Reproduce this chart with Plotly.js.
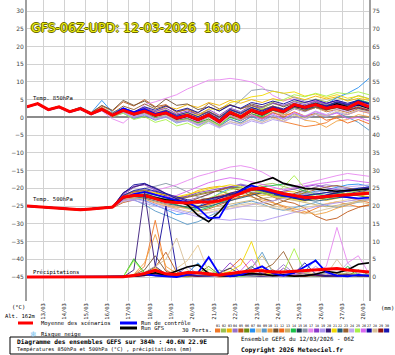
<!DOCTYPE html>
<html><head><meta charset="utf-8">
<script src="https://cdn.plot.ly/plotly-3.0.1.min.js"></script>
<style>html,body{margin:0;padding:0;background:#fff;}#chart{width:395px;height:355px;}</style>
</head><body><div id="chart"></div>
<script>
// ---- data ----
const hours = [0,12,24,36,48,60,72,84,96,108,120,132,144,156,168,180,192,204,216,228,240,252,264,276,288,300,312,324,336,348,360,372,384];
const dayTicks = [18,42,66,90,114,138,162,186,210,234,258,282,306,330,354,378];
const dayLabels = ['13/03','14/03','15/03','16/03','17/03','18/03','19/03','20/03','21/03','22/03','23/03','24/03','25/03','26/03','27/03','28/03'];
const leftTicks = [30,25,20,15,10,5,0,-5,-10,-15,-20,-25,-30,-35,-40,-45];
const rightTicks = [75,70,65,60,55,50,45,40,35,30,25,20,15,10,5,0];
const memberIds = ['01','02','03','04','05','06','07','08','09','10','11','12','13','14','15','16','17','18','19','20','21','22','23','24','25','26','27','28','29','30'];
const memberColors = ['#f07828','#98c050','#f0b400','#9870c8','#c05818','#6c8c10','#2890f0','#e8c890','#5898c8','#f0a040','#705030','#f06818','#c8b070','#18c048','#203850','#8898a8','#e888f0','#8838c8','#b098f0','#381878','#f0d800','#205878','#986030','#c0a8f0','#a8f048','#d868f0','#100898','#d8c098','#901010','#1818b0'];

const mean850 = [3.0,3.9,2.2,3.0,1.6,2.5,1.0,2.3,0.6,2.0,0.9,1.8,0.6,1.3,-0.2,0.6,-0.6,0.7,-1.2,1.4,0.1,2.0,1.0,2.4,1.6,3.6,2.8,3.6,2.6,3.2,2.6,4.2,3.0];
const ctl850 = [3.0,3.8,2.1,2.9,1.5,2.4,0.9,2.2,0.6,2.6,1.4,2.4,1.0,1.6,0.2,0.8,-0.4,0.8,-1.0,1.4,0.2,2.0,1.2,2.6,1.8,3.4,2.6,3.6,2.8,3.4,2.6,3.8,2.8];
const gfs850 = [3.0,3.9,2.2,3.0,1.6,2.5,1.0,2.3,0.6,2.1,0.8,1.8,0.4,1.2,-0.4,0.4,-0.8,0.6,-1.4,1.2,0.0,1.8,0.8,2.4,1.8,3.2,2.6,3.8,2.8,3.8,3.0,3.6,2.6];
const members850 = [
[3.1,3.7,2.4,2.8,1.8,2.3,1.2,2.1,0.9,1.6,0.4,1.2,0.1,0.6,-0.9,-0.4,-1.5,-0.5,-2.0,0.2,-0.8,0.5,-0.4,0.3,-1.2,-1.8,-2.6,-2.2,-1.5,0.4,0.8,1.9,1.2],
[2.9,4.0,2.1,3.2,1.5,2.7,0.8,2.6,0.4,2.5,1.3,2.6,1.2,2.2,0.6,1.4,0.3,1.8,0.2,2.4,1.3,3.2,2.6,3.9,3.1,4.6,4.0,5.2,4.4,5.6,4.8,6.2,5.3],
[3.0,3.8,2.3,3.1,1.7,2.4,1.1,2.2,0.8,1.9,1.0,2.3,1.6,3.0,2.4,3.6,2.8,4.2,3.4,4.8,4.0,5.0,4.2,5.3,4.6,5.8,5.0,6.0,5.2,5.8,4.6,5.4,4.8],
[3.1,3.9,2.2,2.9,1.6,2.6,0.9,2.0,0.3,1.5,0.2,1.0,-0.5,0.4,-1.2,-0.6,-1.8,-0.8,-2.4,-0.6,-1.5,0.4,-0.5,1.2,0.6,2.4,1.6,2.8,2.0,3.4,2.2,3.0,2.2],
[3.0,4.0,2.3,3.1,1.8,2.8,1.4,3.2,1.8,4.4,3.2,5.0,3.0,3.6,1.6,2.2,0.8,1.6,0.2,1.8,0.6,2.2,1.4,2.8,1.8,3.2,2.2,2.8,1.6,2.2,1.4,2.4,1.8],
[2.9,3.9,2.2,3.0,1.5,2.4,1.0,2.4,0.6,2.2,0.8,1.6,0.2,0.8,-0.8,-0.2,-1.4,0.2,-1.6,1.0,-0.4,1.6,0.4,2.0,1.2,3.2,2.6,4.0,3.4,4.4,3.8,4.6,4.0],
[3.0,3.8,2.1,3.1,1.7,2.9,1.3,4.8,1.4,2.6,1.0,2.0,0.4,1.0,-0.6,0.2,-1.0,0.4,-1.4,1.2,0.0,1.8,1.2,2.6,2.0,3.4,2.8,4.2,3.6,5.6,6.8,8.4,11.0],
[3.0,3.9,2.2,3.0,1.6,2.5,1.0,2.3,0.7,1.8,0.6,1.4,0.0,0.6,-0.6,0.2,-1.0,0.0,-1.8,0.6,-0.6,1.2,0.2,1.6,0.8,2.6,1.8,2.8,1.8,2.6,2.0,3.0,2.2],
[3.0,3.9,2.0,2.9,1.5,2.3,0.9,2.0,0.2,1.2,-0.4,0.6,-0.8,0.2,-1.6,-0.8,-2.2,-1.0,-2.6,-0.4,-1.6,0.2,-1.0,0.6,-0.6,1.0,0.2,1.2,0.4,1.4,0.0,-1.4,-3.6],
[3.1,3.8,2.3,3.0,1.7,2.5,1.1,2.3,0.9,2.3,1.4,2.4,1.3,2.0,0.8,1.2,0.0,1.0,-0.6,1.6,0.6,2.6,1.6,2.2,0.8,1.0,-0.8,-1.2,-2.8,-1.0,-0.6,0.8,0.2],
[3.0,3.9,2.3,3.1,1.8,2.8,1.3,3.4,2.0,4.8,3.4,4.6,2.8,5.2,3.4,3.8,2.2,3.0,1.8,3.6,2.4,3.8,3.0,4.2,3.0,4.0,3.2,4.4,3.4,4.0,3.2,4.4,3.6],
[3.0,3.8,2.2,3.0,1.6,2.4,1.0,2.2,0.6,1.9,0.8,1.7,0.5,1.0,-0.4,0.2,-0.8,0.2,-1.4,0.8,-0.4,1.0,-0.2,1.4,0.2,1.6,0.4,1.0,-0.8,-0.2,-1.6,-0.6,-1.8],
[2.9,3.9,2.2,3.0,1.6,2.6,1.1,2.5,0.8,2.2,1.1,2.2,1.0,1.8,0.4,1.2,0.2,1.4,-0.2,2.0,0.8,2.6,1.8,3.0,2.2,3.8,3.0,3.4,2.4,3.0,2.4,3.6,2.8],
[3.0,3.9,2.2,3.0,1.6,2.5,0.9,2.3,0.5,1.8,0.6,1.4,0.0,0.8,-1.0,-0.4,-1.6,-0.4,-2.2,0.0,-1.0,1.0,0.2,2.0,1.4,3.0,2.6,3.6,3.0,4.4,3.6,5.0,4.2],
[3.0,3.9,2.2,3.0,1.6,2.5,1.0,2.2,0.7,2.0,0.8,1.6,0.4,1.2,-0.2,0.6,-0.8,0.8,-1.0,1.6,0.4,2.2,1.4,2.6,1.8,3.4,2.4,3.0,2.2,2.8,2.0,2.6,1.8],
[3.0,3.8,2.2,3.0,1.6,2.4,1.0,2.4,0.7,2.1,1.0,2.0,0.9,1.6,0.2,1.0,-0.4,1.0,-0.6,2.4,4.8,7.6,8.0,7.4,6.8,5.6,4.6,4.2,3.6,4.0,3.2,3.8,3.0],
[3.0,3.9,2.2,3.0,1.6,2.4,0.8,1.8,-0.4,-1.6,1.0,3.6,4.4,5.4,6.4,8.0,9.2,10.5,10.6,11.0,10.6,10.0,8.6,6.2,4.8,5.2,4.2,4.8,4.0,4.6,3.8,4.4,3.6],
[3.0,3.9,2.2,3.0,1.6,2.5,1.0,2.4,0.8,2.4,1.4,2.8,1.6,2.6,1.0,1.8,0.8,2.2,0.6,2.6,1.6,3.4,2.8,4.0,3.4,4.4,3.6,4.6,3.8,4.8,3.6,4.6,3.4],
[3.0,3.9,2.2,3.0,1.6,2.4,1.0,2.2,0.4,1.4,0.0,0.8,-0.6,0.0,-1.4,-1.0,-2.0,-1.2,-2.8,-1.6,-2.4,-1.0,-1.8,-0.6,-1.2,0.2,-0.6,0.8,0.2,1.4,0.8,2.0,1.4],
[3.0,3.9,2.2,3.0,1.6,2.5,1.0,2.3,0.6,2.2,1.0,2.0,0.8,1.6,0.0,0.8,-0.4,1.2,-0.6,2.2,1.2,2.8,2.0,3.2,2.4,3.8,3.2,4.0,3.2,4.2,3.4,4.6,3.8],
[3.0,3.9,2.2,3.0,1.6,2.5,1.0,2.3,0.6,2.0,0.9,1.9,0.8,1.6,0.4,1.2,0.6,2.4,2.2,4.2,4.8,5.8,6.2,7.4,6.8,7.2,6.0,6.6,5.6,6.4,5.4,6.0,5.2],
[3.0,3.9,2.2,3.0,1.6,2.5,1.0,2.2,0.5,1.8,0.6,1.5,0.3,1.0,-0.6,0.2,-1.0,0.4,-1.4,1.0,-0.2,1.6,0.6,2.0,1.2,2.8,2.0,3.0,2.2,3.2,2.4,3.4,2.6],
[3.0,4.0,2.3,3.1,1.8,2.7,1.2,2.8,1.2,3.2,2.2,3.8,2.4,3.4,1.4,2.4,1.2,4.0,2.4,3.6,2.4,3.4,2.2,3.2,2.0,3.0,1.8,2.8,2.0,3.2,2.2,3.0,2.0],
[3.0,3.9,2.2,3.0,1.6,2.5,1.0,2.3,0.5,1.7,0.3,1.0,-0.4,0.4,-1.0,-0.8,-2.4,-1.6,-3.0,-1.2,-2.0,-0.6,-1.4,0.4,-0.4,1.2,0.4,1.8,0.8,2.4,1.6,2.8,2.0],
[3.0,3.9,2.2,3.0,1.6,2.5,0.9,2.0,0.2,1.2,-0.6,0.2,-1.4,-0.6,-2.4,-1.6,-3.0,-1.0,-2.2,0.4,-0.2,2.0,2.4,4.4,5.0,6.4,5.8,6.8,6.0,7.0,6.6,7.2,6.4],
[3.0,3.9,2.2,3.0,1.6,2.5,1.0,2.3,0.6,1.9,0.7,1.6,0.3,0.9,-0.6,0.0,-1.2,0.2,-1.8,0.6,-0.8,0.8,-0.6,1.0,-0.4,1.4,0.2,1.6,0.6,1.2,-0.4,0.0,-1.0],
[3.0,3.9,2.2,3.0,1.6,2.5,1.0,2.4,0.9,2.6,1.6,3.0,2.0,3.2,1.8,2.6,1.4,3.0,1.8,3.4,2.6,4.2,3.6,4.6,3.8,5.0,4.2,5.0,4.0,4.8,4.0,4.8,3.8],
[3.0,3.9,2.2,3.0,1.6,2.5,1.0,2.3,0.7,1.9,0.8,1.5,0.2,0.6,-1.0,-0.6,-1.8,-0.8,-2.6,-1.2,-1.8,-0.4,-1.4,-0.2,-1.0,0.6,-0.2,1.0,0.4,1.8,1.0,2.2,1.6],
[3.0,3.9,2.2,3.0,1.6,2.5,1.0,2.3,0.6,2.1,1.0,1.9,0.8,1.5,0.0,0.8,-0.4,1.0,-0.8,1.8,0.4,2.4,1.4,2.8,1.8,3.6,2.6,3.4,2.2,2.8,2.0,2.8,2.0],
[3.0,3.9,2.2,3.0,1.6,2.5,1.0,2.4,0.8,2.2,1.0,2.2,1.0,2.0,0.6,1.4,0.2,1.6,0.0,2.2,1.0,2.8,1.8,3.0,2.2,3.8,3.0,4.0,3.2,4.4,3.6,4.8,4.0]
];

const mean500 = [-25.0,-25.2,-25.5,-25.7,-25.9,-26.0,-25.8,-25.6,-25.3,-22.5,-22.0,-22.0,-23.0,-23.8,-24.0,-24.1,-23.8,-23.9,-23.5,-22.6,-21.4,-20.2,-19.9,-20.8,-21.5,-22.0,-22.6,-22.5,-22.2,-22.0,-21.8,-21.6,-21.4];
const ctl500 = [-25.0,-25.2,-25.5,-25.7,-25.9,-26.0,-25.8,-25.6,-25.3,-22.8,-21.6,-21.0,-21.8,-22.8,-23.4,-23.8,-25.5,-28.4,-28.2,-23.0,-20.6,-19.2,-20.2,-21.2,-22.0,-22.4,-22.8,-22.6,-22.0,-22.2,-22.6,-22.8,-22.6];
const gfs500 = [-25.0,-25.2,-25.5,-25.7,-25.9,-26.0,-25.8,-25.6,-25.3,-22.6,-22.0,-22.2,-22.8,-23.2,-23.4,-24.6,-27.6,-29.4,-26.6,-23.0,-20.6,-18.8,-18.0,-17.0,-18.6,-19.4,-20.0,-20.2,-20.6,-20.8,-20.6,-20.4,-20.2];
const members500 = [
[-25.0,-25.1,-25.4,-25.6,-25.8,-25.9,-25.6,-25.4,-25.0,-22.8,-22.4,-23.0,-24.2,-25.0,-25.6,-25.0,-24.2,-23.2,-22.0,-21.2,-20.6,-21.4,-22.8,-24.0,-25.2,-26.4,-27.0,-25.6,-24.4,-23.8,-24.6,-25.2,-24.8],
[-25.0,-25.3,-25.6,-25.8,-26.0,-26.1,-25.9,-25.7,-25.4,-23.0,-22.2,-21.6,-22.4,-23.0,-23.6,-24.4,-25.0,-24.4,-23.6,-22.4,-21.0,-20.0,-19.0,-18.6,-19.4,-20.4,-21.2,-22.4,-23.0,-22.6,-22.0,-21.4,-21.0],
[-24.9,-25.2,-25.5,-25.6,-25.8,-25.9,-25.7,-25.5,-25.2,-23.6,-22.6,-21.8,-21.4,-22.0,-22.6,-22.0,-20.6,-19.8,-19.4,-19.8,-20.6,-21.4,-22.0,-21.6,-20.8,-21.0,-21.8,-22.6,-23.4,-22.8,-22.2,-21.8,-22.4],
[-25.0,-25.1,-25.5,-25.7,-25.9,-26.0,-25.8,-25.6,-25.2,-21.8,-19.8,-18.6,-20.2,-21.8,-22.8,-23.4,-22.6,-21.8,-20.4,-19.6,-18.8,-19.4,-20.2,-21.6,-22.4,-21.8,-20.6,-19.6,-19.0,-19.4,-20.2,-20.0,-19.6],
[-25.0,-25.2,-25.6,-25.8,-26.0,-26.2,-26.0,-25.8,-25.5,-24.0,-23.2,-22.6,-22.8,-23.6,-24.6,-25.6,-26.4,-25.8,-24.6,-23.4,-22.4,-21.8,-21.2,-22.4,-23.6,-24.2,-25.6,-27.8,-29.0,-28.4,-26.6,-25.4,-24.6],
[-25.0,-25.2,-25.5,-25.7,-25.9,-26.0,-25.8,-25.6,-25.3,-22.6,-21.6,-21.4,-22.6,-23.4,-23.0,-22.4,-21.6,-21.0,-20.8,-21.6,-22.4,-21.4,-20.6,-21.0,-22.0,-22.8,-23.4,-22.6,-21.8,-21.2,-21.6,-22.2,-22.6],
[-25.1,-25.2,-25.4,-25.6,-25.8,-25.9,-25.7,-25.5,-25.2,-23.2,-22.8,-23.4,-24.6,-26.0,-27.4,-27.0,-25.2,-23.4,-21.4,-20.0,-19.2,-19.6,-20.4,-21.2,-21.8,-22.4,-21.6,-20.8,-20.4,-19.6,-19.0,-18.8,-19.4],
[-25.0,-25.3,-25.6,-25.8,-26.1,-26.2,-26.0,-25.8,-25.5,-22.6,-22.0,-22.6,-24.0,-25.0,-25.8,-26.6,-27.2,-26.8,-26.0,-25.6,-25.0,-24.4,-24.0,-24.8,-25.6,-26.0,-25.4,-24.8,-24.2,-23.6,-23.2,-23.8,-24.4],
[-25.0,-25.2,-25.5,-25.7,-25.9,-26.0,-25.8,-25.6,-25.3,-23.0,-23.2,-24.6,-26.4,-27.6,-29.0,-30.2,-29.4,-28.0,-26.4,-25.0,-24.2,-23.6,-24.4,-25.6,-26.2,-25.4,-24.6,-24.0,-24.8,-25.4,-24.6,-23.8,-23.2],
[-25.0,-25.2,-25.5,-25.7,-25.9,-26.0,-25.8,-25.6,-25.3,-22.4,-21.6,-21.2,-21.8,-22.6,-23.6,-24.8,-25.4,-24.6,-23.4,-22.2,-21.6,-22.4,-23.4,-24.2,-25.0,-25.6,-26.6,-27.4,-26.8,-25.6,-24.8,-23.6,-22.8],
[-24.9,-25.1,-25.4,-25.6,-25.8,-25.9,-25.7,-25.5,-25.2,-22.0,-20.8,-20.4,-21.0,-22.2,-23.4,-24.0,-22.8,-21.4,-20.4,-19.6,-19.8,-21.2,-22.8,-23.6,-22.6,-21.4,-20.4,-19.8,-20.6,-21.4,-20.8,-20.2,-19.8],
[-25.0,-25.2,-25.5,-25.7,-25.9,-26.0,-25.8,-25.6,-25.3,-23.2,-22.6,-22.8,-23.8,-24.6,-25.2,-25.6,-25.2,-24.6,-24.0,-23.2,-22.4,-21.6,-21.0,-21.6,-22.2,-22.8,-23.2,-22.8,-22.4,-22.0,-22.6,-23.4,-24.0],
[-25.0,-25.2,-25.5,-25.7,-25.9,-26.0,-25.8,-25.6,-25.3,-23.4,-22.8,-22.2,-22.6,-23.2,-23.8,-24.2,-24.8,-25.4,-25.0,-24.4,-23.8,-23.2,-22.8,-22.4,-22.8,-23.4,-24.0,-24.6,-25.2,-24.8,-24.2,-23.6,-23.0],
[-25.0,-25.2,-25.6,-25.8,-26.0,-26.1,-25.9,-25.7,-25.4,-22.8,-22.2,-22.4,-23.2,-24.0,-24.8,-25.6,-26.2,-25.4,-24.2,-22.8,-21.6,-20.4,-19.6,-19.2,-18.8,-19.6,-20.8,-21.6,-22.0,-21.4,-20.6,-20.0,-20.4],
[-25.0,-25.2,-25.5,-25.7,-25.9,-26.0,-25.8,-25.6,-25.3,-22.4,-21.8,-21.6,-22.4,-23.2,-24.0,-24.2,-23.6,-23.0,-22.4,-21.6,-21.0,-20.6,-20.8,-21.6,-22.4,-22.6,-22.2,-21.6,-21.2,-21.6,-22.0,-21.8,-21.4],
[-25.0,-25.2,-25.5,-25.7,-25.9,-26.0,-25.8,-25.6,-25.3,-22.6,-21.4,-20.0,-19.4,-18.6,-19.6,-21.0,-22.4,-23.2,-22.6,-21.8,-21.4,-21.0,-21.6,-22.2,-22.6,-22.0,-21.4,-21.0,-20.6,-20.2,-20.6,-21.0,-21.6],
[-25.0,-25.2,-25.5,-25.7,-25.9,-26.0,-25.8,-25.6,-25.3,-23.0,-22.0,-21.4,-20.6,-19.8,-19.0,-17.8,-16.6,-15.8,-15.0,-14.0,-13.6,-14.2,-15.4,-17.2,-18.8,-19.4,-18.6,-17.8,-17.0,-16.4,-15.8,-16.2,-16.6],
[-25.0,-25.2,-25.5,-25.7,-25.9,-26.0,-25.8,-25.6,-25.3,-21.6,-19.4,-19.0,-20.6,-22.0,-22.8,-22.2,-21.2,-20.6,-20.0,-19.4,-19.0,-19.8,-20.6,-21.4,-20.8,-20.2,-19.6,-19.0,-19.8,-20.4,-21.0,-20.4,-19.8],
[-25.0,-25.2,-25.5,-25.7,-25.9,-26.0,-25.8,-25.6,-25.3,-23.6,-23.4,-24.2,-25.0,-25.6,-26.4,-27.2,-28.0,-28.4,-28.8,-29.0,-28.6,-28.8,-29.2,-28.4,-27.6,-26.8,-25.8,-25.2,-24.6,-24.0,-23.6,-23.2,-23.0],
[-25.0,-25.2,-25.5,-25.7,-25.9,-26.0,-25.8,-25.6,-25.3,-21.2,-19.6,-18.8,-19.8,-21.4,-22.6,-23.6,-24.2,-23.6,-22.8,-22.0,-21.2,-20.4,-20.0,-20.6,-21.2,-21.8,-22.4,-23.0,-22.6,-22.0,-21.4,-20.8,-20.4],
[-25.0,-25.2,-25.5,-25.7,-25.9,-26.0,-25.8,-25.6,-25.3,-22.2,-21.2,-20.8,-21.2,-21.8,-22.4,-21.8,-21.0,-20.2,-19.6,-19.0,-19.4,-20.4,-21.4,-22.2,-22.6,-23.2,-23.6,-23.0,-22.4,-22.0,-21.6,-21.2,-21.0],
[-25.0,-25.2,-25.5,-25.7,-25.9,-26.0,-25.8,-25.6,-25.3,-22.8,-22.4,-22.8,-23.6,-24.4,-24.8,-25.2,-25.6,-25.0,-24.2,-23.4,-22.6,-21.8,-21.2,-21.8,-22.4,-22.8,-23.2,-23.6,-23.2,-22.6,-22.2,-21.8,-21.6],
[-25.0,-25.2,-25.5,-25.7,-25.9,-26.0,-25.8,-25.6,-25.3,-22.2,-21.0,-20.6,-21.6,-22.8,-23.2,-22.6,-21.8,-21.2,-20.6,-19.8,-20.6,-22.2,-23.8,-24.8,-23.6,-22.4,-21.2,-20.4,-19.6,-19.2,-19.8,-20.6,-21.2],
[-25.0,-25.2,-25.5,-25.7,-25.9,-26.0,-25.8,-25.6,-25.3,-23.4,-23.0,-23.6,-24.4,-25.4,-26.2,-26.8,-27.4,-27.0,-26.4,-25.8,-25.2,-24.6,-24.0,-23.6,-23.0,-22.4,-21.8,-21.2,-20.6,-20.0,-19.6,-19.2,-19.0],
[-25.0,-25.2,-25.5,-25.7,-25.9,-26.0,-25.8,-25.6,-25.3,-22.6,-21.8,-21.2,-21.8,-22.6,-23.4,-24.2,-23.6,-22.8,-21.6,-20.4,-19.8,-20.4,-21.2,-21.8,-19.6,-16.4,-20.0,-22.4,-22.8,-22.0,-21.2,-20.6,-20.2],
[-25.0,-25.2,-25.5,-25.7,-25.9,-26.0,-25.8,-25.6,-25.3,-22.4,-21.4,-21.0,-21.6,-22.4,-22.0,-20.8,-19.6,-18.4,-17.6,-17.0,-17.4,-18.2,-19.0,-19.8,-20.4,-19.8,-19.2,-18.8,-18.4,-18.0,-17.6,-18.0,-18.4],
[-25.0,-25.2,-25.5,-25.7,-25.9,-26.0,-25.8,-25.6,-25.3,-21.4,-19.0,-18.6,-20.0,-21.6,-23.0,-24.4,-25.2,-24.2,-22.8,-21.4,-20.6,-20.0,-20.6,-21.4,-22.2,-22.8,-23.4,-22.6,-21.8,-21.2,-20.8,-20.4,-20.0],
[-25.0,-25.2,-25.5,-25.7,-25.9,-26.0,-25.8,-25.6,-25.3,-23.0,-22.6,-23.0,-23.8,-24.6,-25.2,-25.8,-26.4,-26.2,-25.6,-25.0,-24.6,-24.2,-24.8,-25.4,-26.0,-26.6,-27.2,-26.6,-25.8,-25.0,-24.4,-23.8,-23.4],
[-25.0,-25.2,-25.5,-25.7,-25.9,-26.0,-25.8,-25.6,-25.3,-22.6,-22.0,-22.2,-23.0,-23.8,-24.2,-24.0,-23.4,-22.8,-22.2,-21.6,-21.0,-20.6,-20.4,-21.0,-21.6,-22.2,-22.8,-23.0,-22.6,-22.2,-21.8,-21.4,-21.2],
[-25.0,-25.2,-25.5,-25.7,-25.9,-26.0,-25.8,-25.6,-25.3,-22.0,-20.6,-20.0,-20.8,-21.8,-22.6,-23.2,-23.8,-23.2,-22.4,-21.6,-20.8,-20.2,-20.6,-21.4,-22.0,-22.4,-22.0,-21.4,-21.0,-20.6,-20.2,-19.8,-19.6]
];

const meanPr = [0,0,0,0,0,0,0,0,0,0.1,0.4,1.0,1.9,0.9,0.7,1.3,1.2,0.8,0.6,1.0,1.4,1.8,1.8,1.4,1.4,1.6,1.8,2.0,2.2,2.4,2.0,1.6,1.4];
const ctlPr = [0,0,0,0,0,0,0,0,0,0.2,0.4,0.8,0.4,0.2,0.0,0.6,1.2,5.6,0.8,0.2,0.6,1.8,3.0,1.0,0.4,1.2,2.8,4.6,1.4,0.4,0.2,0.6,0.4];
const gfsPr = [0,0,0,0,0,0,0,0,0,0,0.2,0.6,1.2,0.6,1.6,2.8,3.4,1.0,0.4,0.2,0.6,1.0,0.8,0.4,0.6,0.2,0.4,0.8,1.6,1.2,2.0,3.6,4.0];
const membersPr = [
[0,0,0,0,0,0,0,0,0,0,0.6,3.0,16,2.0,0.4,0.2,0.8,0.4,0,0.2,0.6,1.2,0.8,0.4,0.2,0.6,1.4,0.8,0.2,0.4,0.8,0.6,0.2],
[0,0,0,0,0,0,0,0,0,0,5.2,1.0,0.4,0.8,0.2,0,0.4,1.2,0.6,0.2,0.4,0.8,0.4,0.2,0.6,1.6,0.6,0.2,0.4,0.6,1.2,0.8,0.4],
[0,0,0,0,0,0,0,0,0,0,0.2,0.8,2.6,1.0,0.4,0.8,0.4,0.2,0.6,1.4,0.8,0.6,0.4,0.2,0.4,0.6,0.2,0.4,0.8,0.6,0.4,0.2,0.4],
[0,0,0,0,0,0,0,0,0,0,0.4,0.8,0.4,0.2,0.6,3.0,0.8,0.2,0.4,0.2,0.6,0.8,1.2,0.8,3.5,1.0,0.6,0.4,0.2,0.6,0.4,0.8,0.6],
[0,0,0,0,0,0,0,0,0,0,0.2,1.2,2.8,7.0,1.4,0.4,0.2,0.6,0.4,0.2,0.8,0.4,0.2,0.6,0.4,0.2,0.6,1.0,0.4,0.2,0.4,0.6,0.2],
[0,0,0,0,0,0,0,0,0,0,0.2,0.6,0.4,0.2,0.8,0.4,1.0,3.0,0.6,0.2,0.4,0.6,0.8,0.4,0.2,0.6,0.4,0.2,0.6,0.8,0.4,2.0,0.6],
[0,0,0,0,0,0,0,0,0,0,0.4,1.0,0.6,0.2,0.4,1.0,4.0,0.8,0.2,0.6,0.4,0.2,0.8,0.4,0.6,0.8,1.6,5.0,1.0,0.4,0.2,0.6,0.4],
[0,0,0,0,0,0,0,0,0,0,0.2,0.8,1.6,0.6,2.4,4.6,9.0,1.2,0.4,0.2,0.6,1.0,0.4,0.8,0.6,0.4,0.2,0.6,0.8,0.4,0.2,0.6,0.4],
[0,0,0,0,0,0,0,0,0,0,0.2,0.6,1.0,0.4,0.2,0.6,1.0,0.6,0.2,0.4,0.8,2.4,7.0,1.2,0.4,0.2,0.6,0.8,0.4,0.6,0.4,0.2,0.4],
[0,0,0,0,0,0,0,0,0,0,0.8,4.0,12,3.0,1.0,0.4,0.6,0.2,0.4,0.8,0.4,0.2,0.6,1.2,0.4,0.2,0.6,0.8,0.4,1.0,0.6,0.2,0.4],
[0,0,0,0,0,0,0,0,0,0,0.6,2.0,6.0,1.6,0.6,0.2,0.4,0.6,0.2,0.4,0.8,1.2,0.6,0.4,0.8,0.4,0.2,0.6,0.4,0.8,0.6,0.4,0.2],
[0,0,0,0,0,0,0,0,0,0,0.2,0.4,1.2,0.6,0.2,0.4,0.8,0.4,1.0,2.4,5.2,1.4,0.6,0.2,0.4,0.6,0.8,0.4,0.2,0.6,0.8,0.4,0.2],
[0,0,0,0,0,0,0,0,0,0,0.2,0.6,1.0,0.4,0.2,0.6,0.4,0.2,0.6,0.8,1.4,2.6,6.0,1.8,0.6,0.4,0.2,0.6,1.2,0.8,0.4,0.2,0.6],
[0,0,0,0,0,0,0,0,0,0,5.0,1.2,0.6,0.2,0.4,0.8,0.4,0.2,0.6,0.4,0.2,0.6,0.8,0.4,0.2,0.6,0.4,0.8,1.0,0.6,3.0,0.8,0.4],
[0,0,0,0,0,0,0,0,0,0,0.2,0.4,0.8,0.4,0.2,0.6,0.4,0.8,1.2,2.5,0.8,0.4,0.2,0.6,0.4,0.2,0.6,0.8,0.4,0.2,0.6,0.4,0.2],
[0,0,0,0,0,0,0,0,0,0,0.4,0.8,0.4,0.2,0.6,0.4,0.8,0.6,2.0,0.8,0.4,0.2,0.6,0.4,0.8,0.6,0.4,0.2,0.6,0.4,0.2,0.6,0.4],
[0,0,0,0,0,0,0,0,0,0,0.2,0.4,0.6,0.2,0.4,0.2,0.6,0.4,0.2,0.6,0.4,0.8,0.4,0.2,0.6,0.8,1.2,0.8,3.0,14,4.0,6.0,1.0],
[0,0,0,0,0,0,0,0,0,0,0.2,0.6,1.0,0.4,0.8,0.4,0.2,0.6,0.8,4.0,1.2,0.6,0.4,0.2,2.5,0.8,0.4,0.6,0.2,0.4,0.8,0.6,0.4],
[0,0,0,0,0,0,0,0,0,0,0.2,0.4,0.8,0.6,0.2,0.4,0.6,0.2,0.4,0.8,0.6,0.4,0.2,0.6,0.8,1.2,0.6,3.0,1.0,0.4,0.2,0.6,0.4],
[0,0,0,0,0,0,0,0,0,0,2.0,24,3.0,0.8,0.4,0.2,0.6,0.4,0.2,0.6,0.8,0.4,0.2,0.6,0.4,0.2,0.6,0.8,0.4,0.2,0.6,0.4,0.2],
[0,0,0,0,0,0,0,0,0,0,0.2,0.6,1.4,0.8,0.4,0.2,0.6,0.4,0.8,1.6,3.4,10,1.6,0.6,0.4,0.2,0.6,0.8,0.4,0.2,0.6,0.4,0.2],
[0,0,0,0,0,0,0,0,0,0,0.2,0.4,0.8,0.4,0.2,0.6,0.8,0.4,0.2,0.6,1.0,3.0,0.8,0.4,0.2,0.6,0.8,0.4,0.2,0.6,0.4,0.8,0.4],
[0,0,0,0,0,0,0,0,0,0,0.4,1.0,2.2,0.8,0.4,0.2,0.6,0.4,0.2,0.6,0.8,1.2,2.0,3.6,7.2,1.4,0.6,0.4,0.2,0.6,0.8,0.4,0.2],
[0,0,0,0,0,0,0,0,0,0,0.2,0.6,0.4,0.2,0.6,0.8,0.4,0.2,0.6,0.4,0.8,0.6,0.4,0.2,0.6,0.8,0.4,0.6,1.0,0.6,4.0,0.8,0.4],
[0,0,0,0,0,0,0,0,0,0,4.6,1.0,0.4,0.2,0.6,0.4,0.8,2.2,0.6,0.4,0.2,0.6,0.4,0.8,1.4,8.0,1.2,0.6,0.4,0.2,0.6,0.8,0.4],
[0,0,0,0,0,0,0,0,0,0,0.2,0.4,0.6,0.2,0.4,0.6,0.8,0.4,0.2,0.6,1.8,5.0,1.0,0.4,0.2,0.6,0.8,0.4,0.6,0.2,0.4,0.6,0.2],
[0,0,0,0,0,0,0,0,0,0,0.4,1.2,3.0,20,2.0,0.6,0.2,0.4,0.6,0.2,0.4,0.8,0.4,0.2,0.6,0.4,0.8,0.6,0.2,0.4,0.6,0.2,0.4],
[0,0,0,0,0,0,0,0,0,0,0.4,1.4,3.0,5.0,11,2.0,0.6,0.4,0.2,0.6,0.4,0.8,0.4,0.2,0.6,0.4,0.8,1.2,0.6,5.0,1.0,0.4,0.2],
[0,0,0,0,0,0,0,0,0,0,0.2,0.4,0.6,0.2,0.4,0.6,0.2,0.4,0.6,0.2,0.4,0.8,0.6,2.0,0.6,0.4,0.2,0.6,0.4,0.2,0.6,0.4,0.2],
[0,0,0,0,0,0,0,0,0,0,0.2,0.6,1.0,0.4,0.2,0.6,0.4,0.2,0.6,0.8,0.4,0.6,0.8,0.4,0.6,1.0,4.0,0.8,0.4,0.2,0.6,0.4,0.2]
];

// ---- layout geometry (pixels of the 395x355 picture) ----
const PL = 27, PR = 369, PT = 0, PB = 301;
const px = v => (v - PL) / (PR - PL);
const py = v => (PB - v) / (PB - PT);
const MONO = 'DejaVu Sans Mono';

const traces = [];
function line(y, color, width, axis) {
  traces.push({x: hours, y: y, type: 'scatter', mode: 'lines', yaxis: axis,
    line: {color: color, width: width}, hoverinfo: 'skip'});
}
for (let i = 0; i < members850.length; i++) line(members850[i], memberColors[i], 0.9, 'y');
for (let i = 0; i < members500.length; i++) line(members500[i], memberColors[i], 0.9, 'y');
for (let i = 0; i < membersPr.length; i++) line(membersPr[i], memberColors[i], 0.9, 'y2');
line(gfs850, '#000000', 1.6, 'y'); line(gfs500, '#000000', 1.6, 'y'); line(gfsPr, '#000000', 1.6, 'y2');
line(ctl850, '#0000ff', 1.8, 'y'); line(ctl500, '#0000ff', 1.8, 'y'); line(ctlPr, '#0000ff', 1.8, 'y2');
line(mean850, '#ff0000', 3, 'y'); line(mean500, '#ff0000', 3, 'y'); line(meanPr, '#ff0000', 3, 'y2');

function txt(text, x, y, size, opt) {
  return Object.assign({text: text, xref: 'paper', yref: 'paper', x: px(x), y: py(y),
    xanchor: 'left', yanchor: 'middle', showarrow: false, borderpad: 0,
    font: {family: MONO, size: size, color: '#000'}}, opt || {});
}
const annotations = [
  txt('GFS-06Z-UPD: 12-03-2026  16:00', 30, 27, 12.5,
      {font: {family: 'DejaVu Sans', size: 12.5, color: '#eeee10', shadow: '1px 0px 0px #6a6a00, -1px 0px 0px #6a6a00, 0px 1px 0px #6a6a00, 0px -1px 0px #6a6a00'}}),
  txt('Temp. 850hPa', 32, 98, 5.5),
  txt('Temp. 500hPa', 32, 199, 5.5),
  txt('Précipitations', 32, 272, 5.5),
  txt('(°C)', 11, 307, 5.5),
  txt('(mm)', 380, 308, 5.5),
  txt('Alt. 162m', 4, 316, 5.5),
  txt('Moyenne des scénarios', 40, 323, 5.5),
  txt('Run de contrôle', 140, 323, 5.5),
  txt('Run GFS', 140, 328, 5.5),
  txt('❄', 29, 334, 8, {font: {family: 'DejaVu Sans', size: 8, color: '#7cc4f0'}}),
  txt('Risque neige', 40, 334, 5.5),
  txt('30 Perts.', 181, 330, 5.5),
  txt('<b>Diagramme des ensembles GEFS sur 384h : 40.6N 22.9E</b>', 16, 342, 6.2),
  txt('Températures 850hPa et 500hPa (°C) , précipitations (mm)', 16, 349.5, 5.2),
  txt('Ensemble GEFS du 12/03/2026 - 06Z', 240, 339, 5.7),
  txt('<b>Copyright 2026 Meteociel.fr</b>', 240, 350, 6.3)
];
const shapes = [
  {type: 'line', xref: 'paper', yref: 'paper', x0: px(18), x1: px(33), y0: py(323), y1: py(323), line: {color: '#ff0000', width: 3}},
  {type: 'line', xref: 'paper', yref: 'paper', x0: px(120), x1: px(137), y0: py(323), y1: py(323), line: {color: '#0000ff', width: 3}},
  {type: 'line', xref: 'paper', yref: 'paper', x0: px(120), x1: px(137), y0: py(328), y1: py(328), line: {color: '#000000', width: 3}},
  {type: 'rect', xref: 'paper', yref: 'paper', x0: px(10), x1: px(228), y0: py(337), y1: py(354), line: {color: '#000', width: 1}, fillcolor: 'rgba(0,0,0,0)'}
];
const boxW = 5.83;
for (let i = 0; i < memberIds.length; i++) {
  const x0 = 215 + i * boxW;
  shapes.push({type: 'rect', xref: 'paper', yref: 'paper', x0: px(x0), x1: px(x0 + boxW - 0.7),
    y0: py(332.5), y1: py(328.5), line: {width: 0}, fillcolor: memberColors[i]});
  annotations.push(txt(memberIds[i], x0 + boxW / 2, 325.6, 3.4, {xanchor: 'center'}));
}

const tickFont = {family: 'DejaVu Sans', size: 6, color: '#444'};
const layout = {
  width: 395, height: 355,
  margin: {l: PL, r: 395 - PR, t: PT, b: 355 - PB, pad: 0},
  paper_bgcolor: '#ffffff', plot_bgcolor: '#ffffff',
  showlegend: false,
  xaxis: {range: [0, 384], tickmode: 'array', tickvals: dayTicks, ticktext: dayLabels,
    tickangle: -90, tickfont: {family: MONO, size: 5.5, color: '#222'},
    showgrid: true, gridcolor: '#d2d2d2', gridwidth: 1, zeroline: false,
    showline: false, ticks: '', fixedrange: true},
  yaxis: {range: [-51.76, 33.1], tickmode: 'array', tickvals: leftTicks,
    tickfont: tickFont, showgrid: true, gridcolor: '#d2d2d2', gridwidth: 1,
    zeroline: true, zerolinecolor: '#8c8c8c', zerolinewidth: 2,
    showline: true, linecolor: '#a0a0a0', linewidth: 2, ticks: '', fixedrange: true},
  yaxis2: {range: [-6.76, 78.1], overlaying: 'y', side: 'right', tickmode: 'array',
    tickvals: rightTicks, tickfont: tickFont, showgrid: false, zeroline: false,
    showline: true, linecolor: '#a0a0a0', linewidth: 2, ticks: '', fixedrange: true},
  annotations: annotations,
  shapes: shapes
};
Plotly.newPlot('chart', traces, layout, {staticPlot: true, displayModeBar: false});
</script>
</body></html>
